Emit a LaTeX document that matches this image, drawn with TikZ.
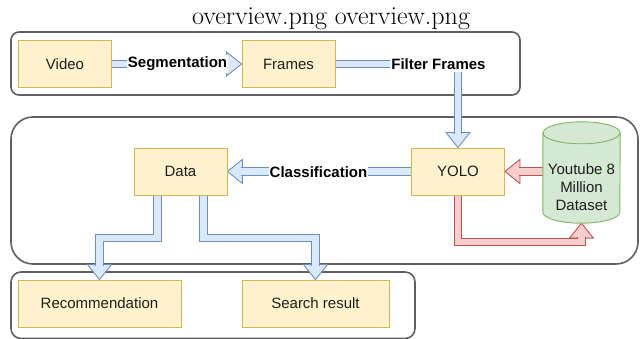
\documentclass[tikz,border=0pt]{standalone}
\usepackage{fontspec}
\newfontfamily\arial{Liberation Sans}
\usetikzlibrary{calc}

\definecolor{boxfill}{HTML}{FFF2CC}
\definecolor{boxline}{HTML}{D6B656}
\definecolor{bluefill}{HTML}{DAE8FC}
\definecolor{blueline}{HTML}{6C8EBF}
\definecolor{redfill}{HTML}{F8CECC}
\definecolor{redline}{HTML}{B85450}
\definecolor{greenfill}{HTML}{D5E8D4}
\definecolor{greenline}{HTML}{82B366}
\definecolor{frameline}{HTML}{5F5F5F}
\definecolor{inktext}{HTML}{1E1E1E}

\pgfdeclarelayer{frames}
\pgfdeclarelayer{links}
\pgfsetlayers{frames,links,main}

\tikzset{
  procbox/.style={draw=boxline, fill=boxfill, line width=0.9pt, inner sep=0pt,
    minimum width=93pt, minimum height=47pt,
    font=\arial\fontsize{15}{18}\selectfont, text=inktext},
  container/.style={draw=frameline, line width=1.6pt},
  blueshaft/.style={draw=blueline, line width=0.9pt, double=bluefill, double distance=6.5pt},
  redshaft/.style={draw=redline, line width=0.9pt, double=redfill, double distance=6.5pt},
  bluehead/.style={draw=blueline, fill=bluefill, line width=0.9pt, line join=miter},
  redhead/.style={draw=redline, fill=redfill, line width=0.9pt, line join=miter},
  edgelabel/.style={fill=white, inner xsep=1pt, inner ysep=2pt,
    font=\arial\bfseries\fontsize{15}{18}\selectfont, text=black},
  dbshape/.style={draw=greenline, fill=greenfill, line width=0.9pt},
}

% arrow head of a flex arrow: tip, then the two base corners relative to it
\newcommand\flexhead[4]{\filldraw[#1] ($(#2)+(#3)$) -- (#2) -- ($(#2)+(#4)$) -- cycle;}

\begin{document}
\begin{tikzpicture}[x=1pt, y=-1pt]
\useasboundingbox (0,0) rectangle (640,339);

% title
\node[font=\fontsize{26}{30}\selectfont, anchor=base, inner sep=0pt] (title) at (331,25) {overview.png overview.png};

% process boxes
\node[procbox] (video)  at (65,64)      {Video};
\node[procbox] (frames) at (288.5,64)   {Frames};
\node[procbox] (data)   at (180.5,171.5) {Data};
\node[procbox] (yolo)   at (458,171.5)  {YOLO};
\node[procbox, minimum width=163pt] (rec)    at (99.5,303.5)  {Recommendation};
\node[procbox, minimum width=147pt] (search) at (315.5,303.5) {Search result};

% dataset cylinder
\node[minimum width=77pt, minimum height=101pt, inner sep=0pt] (ds) at (581.5,172.5) {};
\filldraw[dbshape] ($(ds.north west)+(0,11)$) -- ($(ds.south west)+(0,-11)$)
  arc[start angle=180, end angle=360, x radius=38.5pt, y radius=11pt]
  -- ($(ds.north east)+(0,11)$)
  arc[start angle=0, end angle=180, x radius=38.5pt, y radius=11pt] -- cycle;
\draw[dbshape, fill=none] ($(ds.north west)+(0,11)$)
  arc[start angle=180, end angle=360, x radius=38.5pt, y radius=11pt];
\node[font=\arial\fontsize{15}{18.3}\selectfont, text=inktext, align=center, inner sep=0pt]
  (dstext) at (581.5,187) {Youtube 8\\Million\\Dataset};

% grouping frames
\begin{pgfonlayer}{frames}
  \draw[container, rounded corners=8pt]  (11,32)  rectangle (520,95);
  \draw[container, rounded corners=22pt] (11,117) rectangle (638,264);
  \draw[container, rounded corners=10pt] (11,272) rectangle (415,338.5);
\end{pgfonlayer}

% flex arrows
\begin{pgfonlayer}{links}
  % Video -> Frames
  \flexhead{bluehead}{frames.west}{-15,-12}{-15,12}
  \draw[blueshaft] (video.east) -- ($(frames.west)+(-14,0)$);
  % Frames -> YOLO
  \flexhead{bluehead}{yolo.north}{-12,-15}{12,-15}
  \draw[blueshaft] (frames.east) -- (frames.east -| yolo.north) -- ($(yolo.north)+(0,-14)$);
  % YOLO -> Data
  \flexhead{bluehead}{data.east}{15,-12}{15,12}
  \draw[blueshaft] (yolo.west) -- ($(data.east)+(14,0)$);
  % Dataset -> YOLO
  \flexhead{redhead}{yolo.east}{15,-12}{15,12}
  \draw[redshaft] (yolo.east -| ds.west) -- ($(yolo.east)+(14,0)$);
  % YOLO -> Dataset
  \flexhead{redhead}{ds.south}{-12,15}{12,15}
  \draw[redshaft] (yolo.south) -- ++(0,46.5) -| ($(ds.south)+(0,14)$);
  % Data -> Recommendation
  \flexhead{bluehead}{rec.north}{-12,-15}{12,-15}
  \draw[blueshaft] ($(data.south)+(-23,0)$) -- ++(0,42.5) -| ($(rec.north)+(0,-14)$);
  % Data -> Search result
  \flexhead{bluehead}{search.north}{-12,-15}{12,-15}
  \draw[blueshaft] ($(data.south)+(23,0)$) -- ++(0,42.5) -| ($(search.north)+(0,-14)$);
\end{pgfonlayer}

% edge labels
\node[edgelabel] (seg)  at (177.5,64)  {Segmentation};
\node[edgelabel] (filt) at (438.5,64)  {Filter Frames};
\node[edgelabel] (cls)  at (318.5,172) {Classification};
\end{tikzpicture}
\end{document}
